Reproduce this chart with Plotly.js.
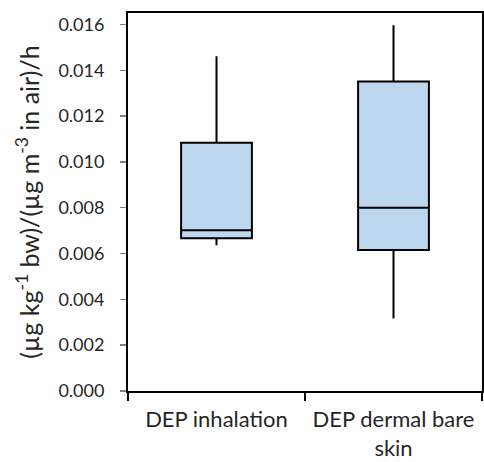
<!DOCTYPE html>
<html>
<head>
<meta charset="utf-8">
<script src="https://cdn.plot.ly/plotly-3.0.1.min.js"></script>
<style>html,body{margin:0;padding:0;background:#fff}#chart{width:484px;height:462px}</style>
</head>
<body>
<div id="chart"></div>
<script>
const categories = ["DEP inhalation", "DEP dermal bare<br>skin"];
const lowerWhisker = [0.00636, 0.00317];
const q1Values = [0.00667, 0.00616];
const medianValues = [0.00702, 0.00800];
const q3Values = [0.01084, 0.01351];
const upperWhisker = [0.01461, 0.01596];

const font = "Lato, 'Open Sans', sans-serif";

const trace = {
  type: "box",
  x: categories,
  q1: q1Values,
  median: medianValues,
  q3: q3Values,
  lowerfence: lowerWhisker,
  upperfence: upperWhisker,
  width: 0.4,
  whiskerwidth: 0,
  fillcolor: "#BDD7EE",
  line: {color: "#000000", width: 2},
  boxpoints: false,
  showlegend: false,
  hoverinfo: "skip"
};

const layout = {
  width: 484,
  height: 462,
  margin: {l: 128, r: 2, t: 13, b: 71},
  paper_bgcolor: "#ffffff",
  plot_bgcolor: "#ffffff",
  showlegend: false,
  font: {family: font, color: "#262626"},
  xaxis: {
    type: "category",
    range: [-0.5, 1.5],
    tickson: "boundaries",
    ticks: "outside",
    ticklen: 8,
    tickwidth: 2,
    tickcolor: "#000000",
    showline: true,
    linecolor: "#000000",
    linewidth: 2,
    mirror: true,
    showgrid: false,
    zeroline: false,
    tickfont: {family: font, size: 22, color: "#262626"},
    ticklabelstandoff: 8
  },
  xaxis2: {
    overlaying: "x",
    anchor: "y",
    side: "bottom",
    range: [-0.5, 1.5],
    tick0: 0.5,
    dtick: 1,
    ticks: "inside",
    ticklen: 8,
    tickwidth: 2,
    tickcolor: "#000000",
    showticklabels: false,
    showgrid: false,
    zeroline: false,
    showline: false
  },
  yaxis: {
    range: [0, 0.0165],
    dtick: 0.002,
    tick0: 0,
    tickformat: ".3f",
    ticks: "outside",
    ticklen: 6,
    tickwidth: 1.5,
    tickcolor: "#7f7f7f",
    showline: true,
    linecolor: "#000000",
    linewidth: 2,
    mirror: true,
    showgrid: false,
    zeroline: false,
    tickfont: {family: font, size: 18, color: "#262626"},
    ticklabelstandoff: 12,
    title: {
      text: "(µg kg<sup>-1</sup> bw)/(µg m<sup>-3</sup> in air)/h",
      font: {family: font, size: 25, color: "#262626"},
      standoff: 12
    }
  }
};

Plotly.newPlot("chart", [trace], layout, {staticPlot: true, displayModeBar: false});
</script>
</body>
</html>
